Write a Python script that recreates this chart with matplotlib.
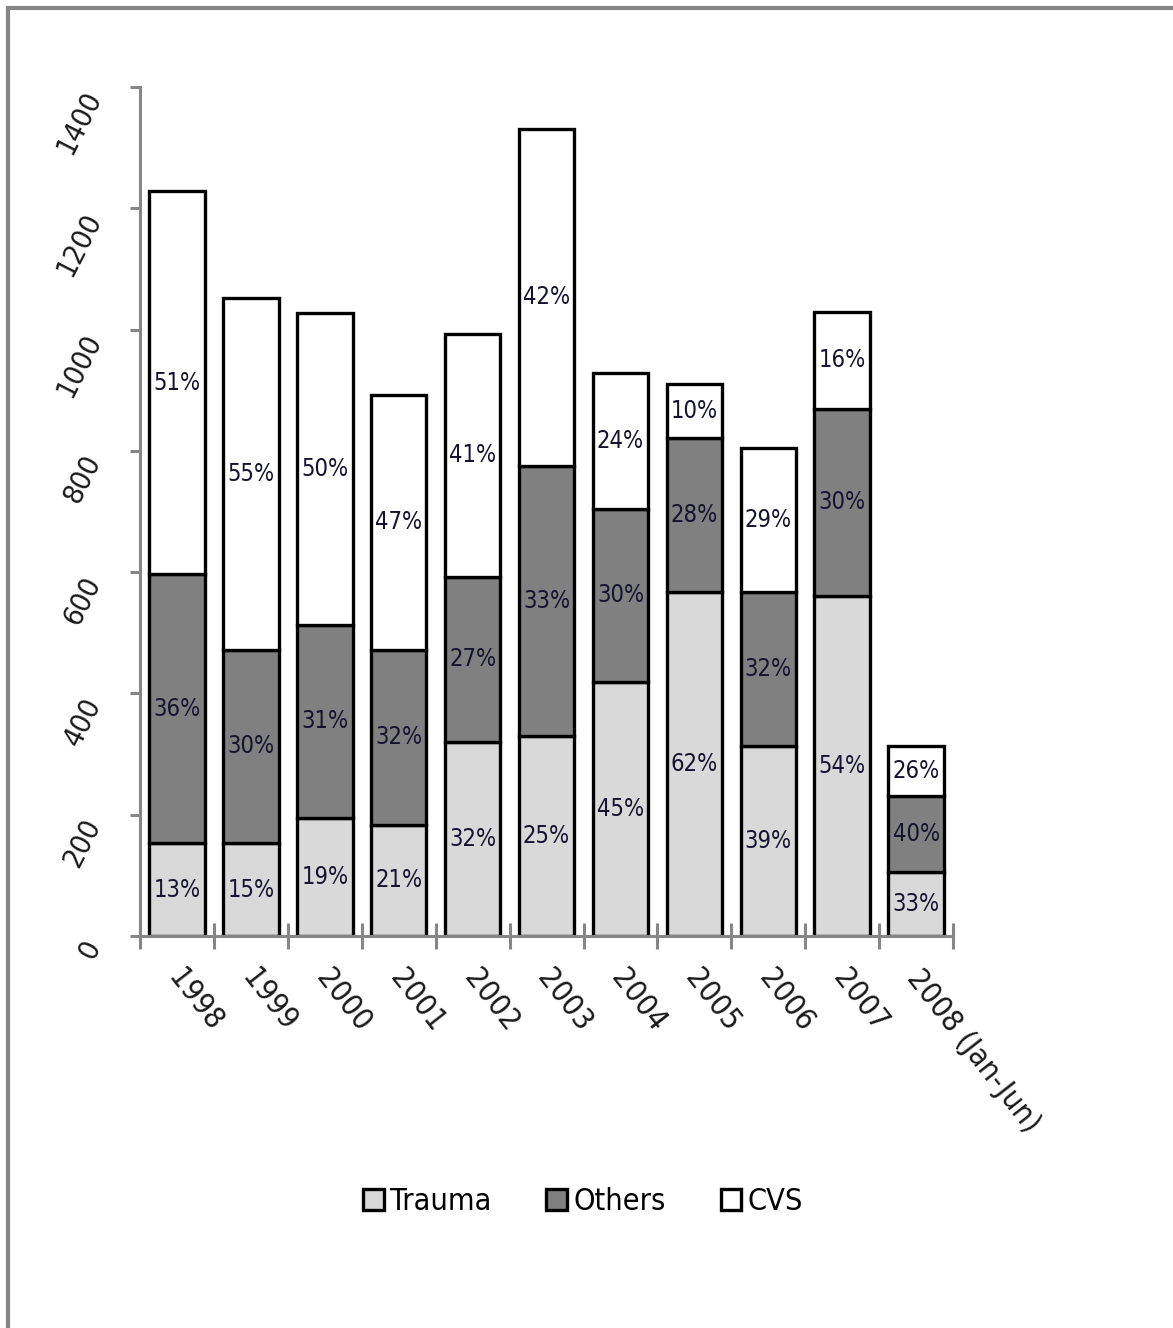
import numpy as np
import matplotlib
matplotlib.use('Agg')
import matplotlib.pyplot as plt
from matplotlib.patches import Rectangle
from matplotlib.transforms import ScaledTranslation

plt.rcParams['font.family'] = 'DejaVu Sans'
plt.rcParams['font.stretch'] = 'condensed'

years = ['1998', '1999', '2000', '2001', '2002', '2003', '2004', '2005', '2006', '2007', '2008 (Jan-Jun)']

# case counts per year, stacked bottom to top
trauma = [153, 153, 195, 183, 320, 330, 419, 567, 313, 561, 106]
others = [444, 319, 318, 289, 272, 445, 285, 254, 254, 308, 125]
cvs = [631, 580, 514, 420, 401, 556, 224, 89, 238, 160, 82]

# share of each year's total
trauma_pct = ['13%', '15%', '19%', '21%', '32%', '25%', '45%', '62%', '39%', '54%', '33%']
others_pct = ['36%', '30%', '31%', '32%', '27%', '33%', '30%', '28%', '32%', '30%', '40%']
cvs_pct = ['51%', '55%', '50%', '47%', '41%', '42%', '24%', '10%', '29%', '16%', '26%']

axis_grey = '#868686'
text_col = '#15132e'

fig = plt.figure(figsize=(11.73, 13.28), dpi=100)
ax = fig.add_axes([0.1194, 0.2952, 0.6931, 0.6393])

x = np.arange(len(years))
style = dict(width=0.75, edgecolor='black', linewidth=2.4)
b1 = ax.bar(x, trauma, color='#d9d9d9', label='Trauma', **style)
b2 = ax.bar(x, others, bottom=trauma, color='#808080', label='Others', **style)
b3 = ax.bar(x, cvs, bottom=np.array(trauma) + np.array(others), color='white', label='CVS', **style)

for bars, labels in ((b1, trauma_pct), (b2, others_pct), (b3, cvs_pct)):
  for rect, text in zip(bars, labels):
    ax.text(rect.get_x() + rect.get_width() / 2, rect.get_y() + rect.get_height() / 2, text,
            ha='center', va='center', fontsize=17, color=text_col)

ax.set_xlim(-0.5, len(years) - 0.5)
ax.set_ylim(0, 1400)

for side in ('top', 'right'):
  ax.spines[side].set_visible(False)
for side in ('left', 'bottom'):
  ax.spines[side].set_color(axis_grey)
  ax.spines[side].set_linewidth(2.2)

ax.set_yticks(range(0, 1401, 200))
ax.set_yticklabels([str(v) for v in range(0, 1401, 200)], rotation=63, ha='right', va='top',
                   rotation_mode='anchor')
ax.tick_params(axis='y', length=7, width=2.2, color=axis_grey, pad=35, labelsize=21, labelcolor='#1a1a1a')

ax.set_xticks(x)
ax.set_xticklabels(years, rotation=-52, ha='left', va='top', rotation_mode='anchor')
ax.tick_params(axis='x', which='major', length=0, pad=20, labelsize=22, labelcolor='#1a1a1a')
ax.set_xticks(np.arange(-0.5, len(years), 1), minor=True)
ax.tick_params(axis='x', which='minor', direction='inout', length=19, width=2.2, color=axis_grey)

# nudge the slanted year labels a little to the right
shift = ScaledTranslation(8 / 100, 0, fig.dpi_scale_trans)
for lbl in ax.get_xticklabels():
  lbl.set_transform(lbl.get_transform() + shift)

fig.legend(handles=[b1, b2, b3], loc='center', bbox_to_anchor=(0.497, 0.095), ncol=3, frameon=False,
           fontsize=22, handlelength=0.68, handleheight=0.68, handletextpad=0.2, columnspacing=1.8)

# grey frame around the figure
fig.add_artist(Rectangle((8 / 1173, -0.1), 1.2, 1.1 - 8 / 1328, transform=fig.transFigure,
                         fill=False, edgecolor=axis_grey, linewidth=3))

fig.savefig('out.png', dpi=100)
